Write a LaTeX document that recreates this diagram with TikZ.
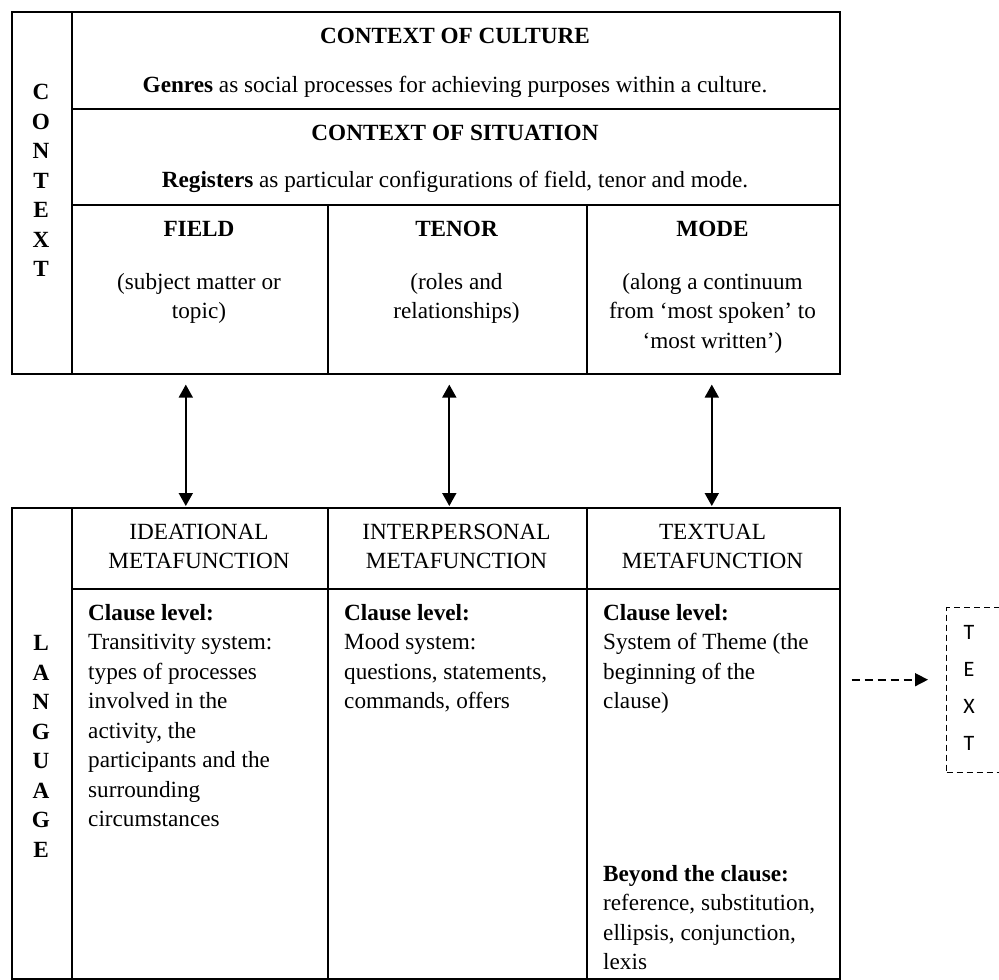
\documentclass[tikz,border=0pt]{standalone}
\usepackage{fontspec}
\setmainfont{Liberation Serif}
\newfontfamily\calfont{Carlito}
\usetikzlibrary{arrows.meta}
\begin{document}
\begin{tikzpicture}[x=1pt,y=-1pt,
  cell/.style={draw, line width=1.6pt, inner sep=0pt, anchor=north west},
  txt/.style={inner sep=0pt, font=\fontsize{23.2}{29.5}\selectfont},
  vletters/.style={inner sep=0pt, align=center, anchor=north,
    font=\fontsize{23.2}{29.5}\selectfont\bfseries},
  biarrow/.style={{Triangle[length=13pt,width=14pt]}-{Triangle[length=13pt,width=14pt]},
    line width=1.8pt},
  dasharrow/.style={-{Triangle[length=13pt,width=13pt]}, line width=1.6pt,
    dash pattern=on 8pt off 5pt},
  dashbox/.style={draw, dash pattern=on 6pt off 4pt, line width=1.4pt,
    inner sep=0pt, anchor=north west},
]
\useasboundingbox (0,0) rectangle (999,980);
\clip (0,0) rectangle (999,980);

% ---------- context table ----------
\node[cell, minimum width=60pt,  minimum height=362pt] (ctxcol)  at (11,11) {};
\node[cell, minimum width=768pt, minimum height=97pt]  (culture) at (71,11) {};
\node[cell, minimum width=768pt, minimum height=96pt]  (situation) at (71,108) {};
\node[cell, minimum width=256pt, minimum height=169pt] (field)   at (71,204) {};
\node[cell, minimum width=259pt, minimum height=169pt] (tenor)   at (327,204) {};
\node[cell, minimum width=253pt, minimum height=169pt] (mode)    at (586,204) {};

\node[vletters] (ctxword) at (41,79) {\strut C\\O\\N\\T\\E\\X\\T};

\node[txt, anchor=base] (culttitle) at (455,43) {\bfseries CONTEXT OF CULTURE};
\node[txt, anchor=base] (culttext) at (455,92)
  {\textbf{Genres} as social processes for achieving purposes within a culture.};
\node[txt, anchor=base] (sittitle) at (455,140) {\bfseries CONTEXT OF SITUATION};
\node[txt, anchor=base] (sittext) at (455,187)
  {\textbf{Registers} as particular configurations of field, tenor and mode.};

\node[txt, anchor=base] (fieldtitle) at (199,236) {\bfseries FIELD};
\node[txt, anchor=base] (tenortitle) at (456.5,236) {\bfseries TENOR};
\node[txt, anchor=base] (modetitle)  at (712.5,236) {\bfseries MODE};

\node[txt, align=center, anchor=north] (fieldtext) at (199,268.35)
  {\strut(subject matter or\\topic)};
\node[txt, align=center, anchor=north] (tenortext) at (456.5,268.35)
  {\strut(roles and\\relationships)};
\node[txt, align=center, anchor=north] (modetext) at (712.5,268.35)
  {\strut(along a continuum\\from ‘most spoken’ to\\‘most written’)};

% ---------- language table ----------
\node[cell, minimum width=60pt,  minimum height=471pt] (langcol) at (11,507) {};
\node[cell, minimum width=256pt, minimum height=81pt]  (idhead)  at (71,507) {};
\node[cell, minimum width=259pt, minimum height=81pt]  (iphead)  at (327,507) {};
\node[cell, minimum width=253pt, minimum height=81pt]  (txhead)  at (586,507) {};
\node[cell, minimum width=256pt, minimum height=390pt] (idbody)  at (71,588) {};
\node[cell, minimum width=259pt, minimum height=390pt] (ipbody)  at (327,588) {};
\node[cell, minimum width=253pt, minimum height=390pt] (txbody)  at (586,588) {};

\node[vletters] (langword) at (41,630) {\strut L\\A\\N\\G\\U\\A\\G\\E};

\node[txt, align=center, anchor=north] (idtitle) at (199,518.35)
  {\strut IDEATIONAL\\METAFUNCTION};
\node[txt, align=center, anchor=north] (iptitle) at (456.5,518.35)
  {\strut INTERPERSONAL\\METAFUNCTION};
\node[txt, align=center, anchor=north] (txtitle) at (712.5,518.35)
  {\strut TEXTUAL\\METAFUNCTION};

\node[txt, align=left, anchor=north west] (idtext) at (88,599.35)
  {\strut\textbf{Clause level:}\\Transitivity system:\\types of processes\\involved in the\\activity, the\\participants and the\\surrounding\\circumstances};
\node[txt, align=left, anchor=north west] (iptext) at (344,599.35)
  {\strut\textbf{Clause level:}\\Mood system:\\questions, statements,\\commands, offers};
\node[txt, align=left, anchor=north west] (txtext) at (603,599.35)
  {\strut\textbf{Clause level:}\\System of Theme (the\\beginning of the\\clause)};
\node[txt, align=left, anchor=north west] (txbeyond) at (603,860.35)
  {\strut\textbf{Beyond the clause:}\\reference, substitution,\\ellipsis, conjunction,\\lexis};

% ---------- links between context and language ----------
\draw[biarrow, shorten <=10pt, shorten >=1pt] ([xshift=-14pt]field.south) -- ([xshift=-14pt]idhead.north);
\draw[biarrow, shorten <=10pt, shorten >=1pt] ([xshift=-8pt]tenor.south) -- ([xshift=-8pt]iphead.north);
\draw[biarrow, shorten <=10pt, shorten >=1pt] ([xshift=-1.5pt]mode.south) -- ([xshift=-1.5pt]txhead.north);

% ---------- text box ----------
\node[dashbox, minimum width=64pt, minimum height=165pt] (textbox) at (946,607) {};
\node[inner sep=0pt, align=center, anchor=north, font=\calfont\fontsize{22}{37}\selectfont]
  (textword) at (969,613.1) {\strut T\\E\\X\\T};
\coordinate (textin) at ([yshift=10.5pt]textbox.west);
\draw[dasharrow, shorten <=11pt, shorten >=18pt] (txbody.east |- textin) -- (textin);
\end{tikzpicture}
\end{document}
